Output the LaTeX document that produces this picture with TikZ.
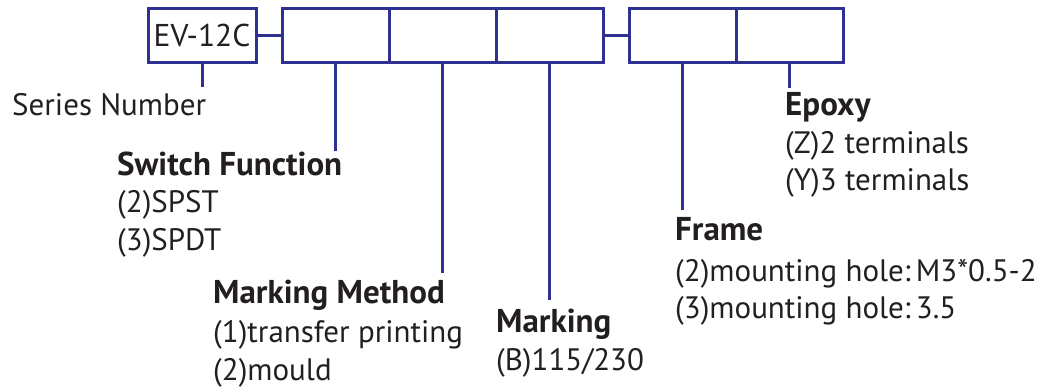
\documentclass[tikz,border=0pt]{standalone}
\usepackage{fontspec}
\setmainfont{PT Sans}
\begin{document}
\begin{tikzpicture}[x=1pt,y=-1pt,
  box/.style={draw=lineblue,line width=3pt,minimum height=54pt,inner sep=0pt,font=\fontsize{31.5}{36}\selectfont,text=txt},
  conn/.style={draw=lineblue,line width=3pt},
  lbl/.style={anchor=base west,inner sep=0pt,font=\fontsize{31}{36}\selectfont,text=txt},
  head/.style={lbl,font=\fontsize{33}{38}\selectfont\bfseries}]
\definecolor{lineblue}{HTML}{2E3192}
\definecolor{txt}{HTML}{231F20}
\useasboundingbox (0,0) rectangle (1046,389);
\node[box,minimum width=108pt] (ev) at (202,35) {EV-12C};
\node[box,minimum width=107pt] (b1) at (335.5,35) {};
\node[box,minimum width=107pt] (b2) at (442.5,35) {};
\node[box,minimum width=107pt] (b3) at (549.5,35) {};
\node[box,minimum width=107pt] (b4) at (682.5,35) {};
\node[box,minimum width=107pt] (b5) at (789.5,35) {};
\draw[conn] (ev.east) -- (b1.west);
\draw[conn] (b3.east) -- (b4.west);
\coordinate (e0) at (202,87);
\coordinate (e1) at (335.5,151);
\coordinate (e2) at (442.5,273);
\coordinate (e3) at (549.5,300);
\coordinate (e4) at (682.5,210);
\coordinate (e5) at (789.5,88);
\draw[conn] (ev.south) -- (e0);
\draw[conn] (b1.south) -- (e1);
\draw[conn] (b2.south) -- (e2);
\draw[conn] (b3.south) -- (e3);
\draw[conn] (b4.south) -- (e4);
\draw[conn] (b5.south) -- (e5);
\node[lbl] (sn) at (12,115) {Series Number};
\node[head] (sf) at (117,175) {Switch Function};
\node[lbl] (sf1) at (117,212) {(2)SPST};
\node[lbl] (sf2) at (117,250) {(3)SPDT};
\node[head] (mm) at (213,303) {Marking Method};
\node[lbl] (mm1) at (213,342) {(1)transfer printing};
\node[lbl] (mm2) at (213,380) {(2)mould};
\node[head] (mk) at (496,332) {Marking};
\node[lbl] (mk1) at (496,370) {(B)115/230};
\node[head] (fr) at (675,240) {Frame};
\node[lbl] (fr1) at (675,281) {(2)mounting hole:\,M3*0.5-2};
\node[lbl] (fr2) at (675,318) {(3)mounting hole:\,3.5};
\node[head] (ep) at (785,115) {Epoxy};
\node[lbl] (ep1) at (785,153) {(Z)2 terminals};
\node[lbl] (ep2) at (785,190) {(Y)3 terminals};
\end{tikzpicture}
\end{document}
